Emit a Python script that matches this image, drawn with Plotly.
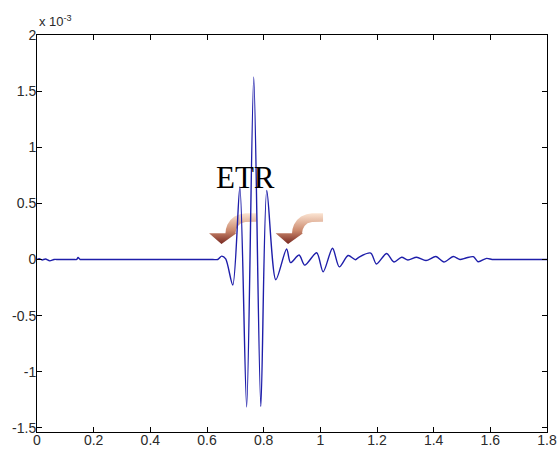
import plotly.graph_objects as go

# ---- data (time axis, amplitude in units of 1e-3) ----
t = [0.0, 0.008, 0.018, 0.03, 0.045, 0.06, 0.075, 0.13, 0.14, 0.145, 0.152, 0.16,
     0.40, 0.62, 0.638, 0.652, 0.666, 0.691, 0.716, 0.740, 0.765, 0.790, 0.811,
     0.843, 0.881, 0.895, 0.925, 0.945, 0.987, 1.010, 1.043, 1.067, 1.098, 1.124,
     1.137, 1.178, 1.198, 1.234, 1.260, 1.287, 1.309, 1.340, 1.373, 1.408, 1.436,
     1.469, 1.493, 1.514, 1.540, 1.557, 1.587, 1.606, 1.620, 1.70, 1.80]
amp = [0.0, 0.008, -0.004, 0.004, -0.012, 0.0, 0.0, 0.0, 0.0, 0.018, 0.0, 0.0,
       0.0, 0.0, 0.0, 0.03, 0.005, -0.227, 0.646, -1.314, 1.626, -1.31, 0.614,
       -0.18, 0.094, -0.028, 0.04, -0.05, 0.06, -0.11, 0.10, -0.066, 0.035, -0.002,
       0.022, 0.057, -0.04, 0.053, -0.022, 0.02, -0.004, 0.02, -0.009, 0.026, -0.022,
       0.026, 0.0, 0.013, 0.025, -0.02, 0.01, 0.0, 0.0, 0.0, 0.0]

x_ticks = [0, 0.2, 0.4, 0.6, 0.8, 1.0, 1.2, 1.4, 1.6, 1.8]
x_tick_labels = ["0", "0.2", "0.4", "0.6", "0.8", "1", "1.2", "1.4", "1.6", "1.8"]
y_ticks = [-1.5, -1, -0.5, 0, 0.5, 1, 1.5, 2]
y_tick_labels = ["-1.5", "-1", "-0.5", "0", "0.5", "1", "1.5", "2"]

label_text = "ETR"
label_pos = (0.735, 0.727)
arrow_tips = [(0.651, 0.138), (0.886, 0.138)]

# ---- layout geometry ----
W, H = 557, 450
ML, MR, MT, MB = 37, 10, 35, 18
XR = (0, 1.8)
YR = (-1.537, 2)
px_x = (XR[1] - XR[0]) / (W - ML - MR)   # data units per pixel
px_y = (YR[1] - YR[0]) / (H - MT - MB)

# curved arrow outline in pixel offsets from the tip (right, down)
arrow_outline = [(0, 0), (-12.4, -10.7), (4, -10.7), (4.5, -15), (6, -19.5), (9, -24),
                 (13, -27.5), (18.5, -29.8), (24, -30.7), (35, -30.7), (35, -22.3),
                 (24, -22.1), (19.5, -20.8), (16.5, -18), (14.7, -14.5), (14, -10.7),
                 (15, -10.7), (0, 0)]

fig = go.Figure()

for tx, ty in arrow_tips:
    ax = [tx + dx * px_x for dx, dy in arrow_outline]
    ay = [ty - dy * px_y for dx, dy in arrow_outline]
    fig.add_trace(go.Scatter(
        x=ax, y=ay, mode="lines", line=dict(width=0), fill="toself",
        fillgradient=dict(type="vertical",
                          colorscale=[[0, "rgb(120,40,32)"], [0.45, "rgb(205,140,112)"],
                                      [1, "rgb(251,228,210)"]]),
        hoverinfo="skip", showlegend=False))

fig.add_trace(go.Scatter(
    x=t, y=amp, mode="lines",
    line=dict(color="rgb(30,30,170)", width=1.4, shape="spline", smoothing=0.8),
    showlegend=False))

axis_common = dict(showline=True, linecolor="black", linewidth=1, mirror="allticks",
                   ticks="inside", ticklen=5, tickcolor="black", showgrid=False,
                   zeroline=False, automargin=False,
                   tickfont=dict(family="Liberation Sans, Arial, sans-serif", size=14,
                                 color="#2a2a2a"))

fig.update_xaxes(range=list(XR), tickmode="array", tickvals=x_ticks,
                 ticktext=x_tick_labels, ticklabelstandoff=-5, **axis_common)
fig.update_yaxes(range=list(YR), tickmode="array", tickvals=y_ticks,
                 ticktext=y_tick_labels, ticklabelstandoff=-3, **axis_common)

fig.add_annotation(xref="paper", yref="paper", x=0, y=1, xanchor="left", yanchor="bottom",
                   yshift=4, showarrow=False, text="x 10<sup>-3</sup>",
                   font=dict(family="Liberation Sans, Arial, sans-serif", size=13,
                             color="#2a2a2a"))
fig.add_annotation(x=label_pos[0], y=label_pos[1], showarrow=False, text=label_text,
                   font=dict(family="Liberation Serif, Times New Roman, serif", size=31,
                             color="black"))

fig.update_layout(width=W, height=H, margin=dict(l=ML, r=MR, t=MT, b=MB),
                  paper_bgcolor="white", plot_bgcolor="white")

fig.write_html("out.html", config={"displayModeBar": False},
               post_script="document.body.style.margin='0';document.body.style.overflow='hidden';")
